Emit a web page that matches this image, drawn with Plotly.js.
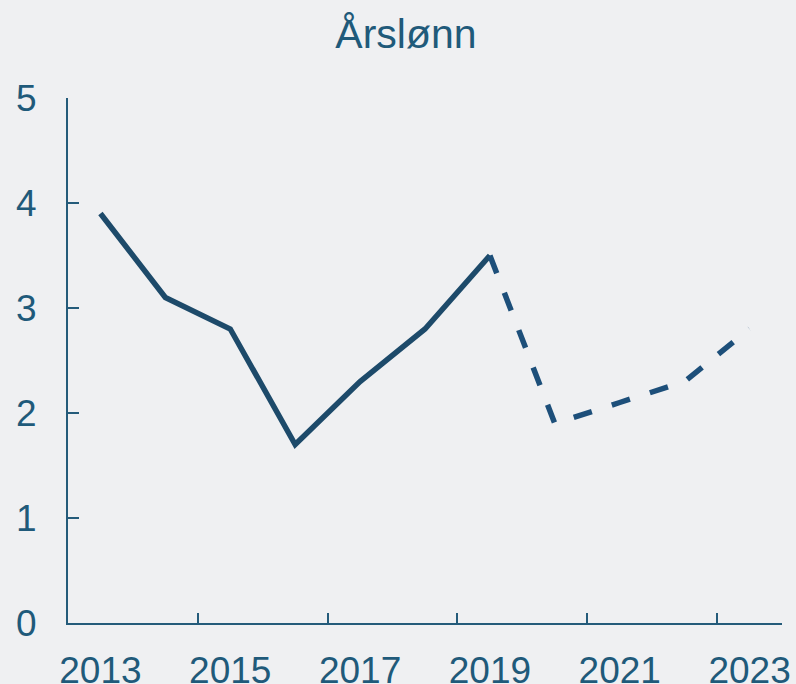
<!DOCTYPE html>
<html>
<head>
<meta charset="utf-8">
<script src="https://cdn.plot.ly/plotly-3.0.1.min.js"></script>
<style>
  html, body { margin: 0; padding: 0; background: #eff0f2; }
  #chart { width: 796px; height: 684px; }
</style>
</head>
<body>
<div id="chart"></div>
<script>
// Årslønn: actual (solid) and projection (dashed)
const years = ["2013", "2014", "2015", "2016", "2017", "2018", "2019", "2020", "2021", "2022", "2023"];
const actual = [3.9, 3.1, 2.8, 1.7, 2.3, 2.8, 3.5, null, null, null, null];
const projection = [null, null, null, null, null, null, 3.5, 1.9, 2.1, 2.3, 2.8];

const textColor = "#1f5a7a";

const traces = [
  {
    x: years,
    y: actual,
    mode: "lines",
    name: "Faktisk",
    line: { color: "#1d4a6a", width: 5.5 },
    connectgaps: false,
    hoverinfo: "x+y"
  },
  {
    x: years,
    y: projection,
    mode: "lines",
    name: "Anslag",
    line: { color: "#1d4f7a", width: 5.5, dash: "19px,21px" },
    connectgaps: false,
    hoverinfo: "x+y"
  }
];

const layout = {
  width: 796,
  height: 684,
  title: {
    text: "Årslønn",
    font: { family: "Liberation Sans, Arial, sans-serif", size: 41, color: textColor },
    x: 0.51,
    xanchor: "center",
    y: 0.972,
    yanchor: "top"
  },
  paper_bgcolor: "#eff0f2",
  plot_bgcolor: "#eff0f2",
  margin: { t: 98, r: 14, b: 61, l: 68 },
  font: { family: "Liberation Sans, Arial, sans-serif", size: 37, color: textColor },
  showlegend: false,
  xaxis: {
    type: "category",
    range: [-0.5, 10.5],
    dtick: 2,
    tick0: 0,
    tickson: "boundaries",
    tickangle: 0,
    automargin: false,
    ticks: "inside",
    ticklen: 10,
    tickwidth: 2,
    tickcolor: "#245b7a",
    showline: true,
    linecolor: "#245b7a",
    linewidth: 2,
    showgrid: false,
    zeroline: false,
    ticklabelstandoff: 14,
    fixedrange: true
  },
  yaxis: {
    range: [0, 5],
    dtick: 1,
    automargin: false,
    ticks: "inside",
    ticklen: 11,
    tickwidth: 2,
    tickcolor: "#245b7a",
    showline: true,
    linecolor: "#245b7a",
    linewidth: 2,
    showgrid: false,
    zeroline: false,
    ticklabelstandoff: 22,
    fixedrange: true
  }
};

Plotly.newPlot("chart", traces, layout, { displayModeBar: false, staticPlot: true });
</script>
</body>
</html>
